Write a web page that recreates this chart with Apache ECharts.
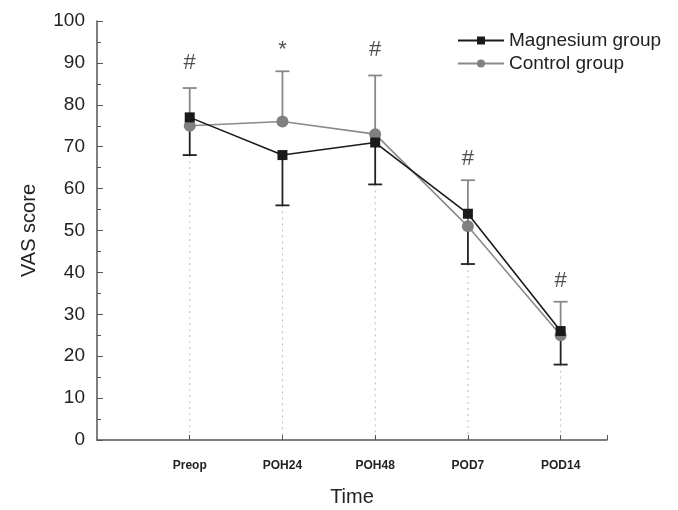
<!DOCTYPE html>
<html>
<head>
<meta charset="utf-8">
<script src="https://cdn.jsdelivr.net/npm/echarts@6/dist/echarts.min.js"></script>
<style>
  html, body { margin: 0; padding: 0; background: #fff; }
  #chart { width: 678px; height: 510px; }
</style>
</head>
<body>
<div id="chart"></div>
<script>
// ---- data ----
const categories = ["Preop", "POH24", "POH48", "POD7", "POD14"];
const magnesium = [77, 68, 71, 54, 26];
const control = [75, 76, 73, 51, 25];
const magnesiumLow = [68, 56, 61, 42, 18];   // lower error bar ends
const controlHigh = [84, 88, 87, 62, 33];    // upper error bar ends
const marks = ["#", "*", "#", "#", "#"];
const markY = [90, 93, 93, 67, 38];
const yTicks = [0, 10, 20, 30, 40, 50, 60, 70, 80, 90, 100];

(function () {
  const dom = document.getElementById("chart");
  const chart = echarts.init(dom);

  const xs = categories.map((_, i) => i + 1);
  const font = "Liberation Sans, Arial, sans-serif";

  // error bars: stem + cap
  function errBar(color, ends, base) {
    return {
      type: "custom",
      silent: true,
      z: 1,
      data: xs.map((x, i) => [x, base[i], ends[i]]),
      renderItem: function (params, api) {
        const x = api.value(0);
        const p0 = api.coord([x, api.value(1)]);
        const p1 = api.coord([x, api.value(2)]);
        const cap = 7;
        return {
          type: "group",
          children: [
            { type: "line", shape: { x1: p0[0], y1: p0[1], x2: p1[0], y2: p1[1] }, style: { stroke: color, lineWidth: 1.8 } },
            { type: "line", shape: { x1: p1[0] - cap, y1: p1[1], x2: p1[0] + cap, y2: p1[1] }, style: { stroke: color, lineWidth: 1.8 } },
          ],
        };
      },
    };
  }

  // dotted drop lines down to the x axis
  const dropLines = {
    type: "custom",
    silent: true,
    z: 0,
    data: xs.map((x, i) => [x, Math.min(magnesiumLow[i], control[i], magnesium[i])]),
    renderItem: function (params, api) {
      const x = api.value(0);
      const p0 = api.coord([x, api.value(1)]);
      const p1 = api.coord([x, 0]);
      return {
        type: "line",
        shape: { x1: p0[0], y1: p0[1], x2: p1[0], y2: p1[1] },
        style: { stroke: "#bbb", lineWidth: 1, lineDash: [2, 4] },
      };
    },
  };

  const labels = {
    type: "scatter",
    silent: true,
    symbolSize: 0,
    data: xs.map((x, i) => [x, markY[i]]),
    label: {
      show: true,
      position: "inside",
      formatter: (p) => marks[p.dataIndex],
      fontFamily: font,
      fontSize: 22,
      color: "#222",
    },
  };

  chart.setOption({
    animation: false,
    textStyle: { fontFamily: font },
    grid: { left: 97, top: 21, right: 71, bottom: 70, outerBoundsMode: "none", containLabel: false },
    legend: {
      top: 26,
      left: 452,
      orient: "vertical",
      itemGap: 4,
      itemWidth: 46,
      itemHeight: 10,
      textStyle: { fontSize: 19, color: "#222", fontFamily: font },
      data: ["Magnesium group", "Control group"],
    },
    xAxis: {
      type: "value",
      min: 0,
      max: 5.5,
      interval: 1,
      name: "Time",
      nameLocation: "middle",
      nameGap: 47,
      nameTextStyle: { fontSize: 20, color: "#222", fontFamily: font },
      axisLine: { lineStyle: { color: "#555", width: 1.5 } },
      axisTick: { inside: true, length: 5, lineStyle: { color: "#555" }, customValues: [1, 2, 3, 4, 5, 5.5] },
      axisLabel: {
        customValues: xs,
        formatter: (v) => categories[Math.round(v) - 1] || "",
        fontSize: 12,
        fontWeight: "bold",
        color: "#222",
        margin: 20,
      },
      splitLine: { show: false },
    },
    yAxis: {
      type: "value",
      min: 0,
      max: 100,
      interval: 10,
      name: "VAS score",
      nameLocation: "middle",
      nameGap: 58,
      nameTextStyle: { fontSize: 20, color: "#222", fontFamily: font },
      axisLine: { show: true, lineStyle: { color: "#555", width: 1.5 } },
      axisTick: { show: true, inside: true, length: 6, lineStyle: { color: "#555" } },
      minorTick: { show: true, splitNumber: 2, length: 4, lineStyle: { color: "#555" } },
      axisLabel: {
        fontSize: 19,
        color: "#222",
        margin: 12,
        customValues: yTicks,
      },
      splitLine: { show: false },
    },
    series: [
      dropLines,
      errBar("#222", magnesiumLow, magnesium),
      errBar("#888", controlHigh, control),
      {
        name: "Control group",
        type: "line",
        z: 3,
        data: xs.map((x, i) => [x, control[i]]),
        symbol: "circle",
        symbolSize: 12,
        itemStyle: { color: "#808080" },
        lineStyle: { color: "#8a8a8a", width: 1.6 },
      },
      {
        name: "Magnesium group",
        type: "line",
        z: 4,
        data: xs.map((x, i) => [x, magnesium[i]]),
        symbol: "rect",
        symbolSize: 10,
        itemStyle: { color: "#1a1a1a" },
        lineStyle: { color: "#1a1a1a", width: 1.6 },
      },
      labels,
    ],
  });
})();
</script>
</body>
</html>
